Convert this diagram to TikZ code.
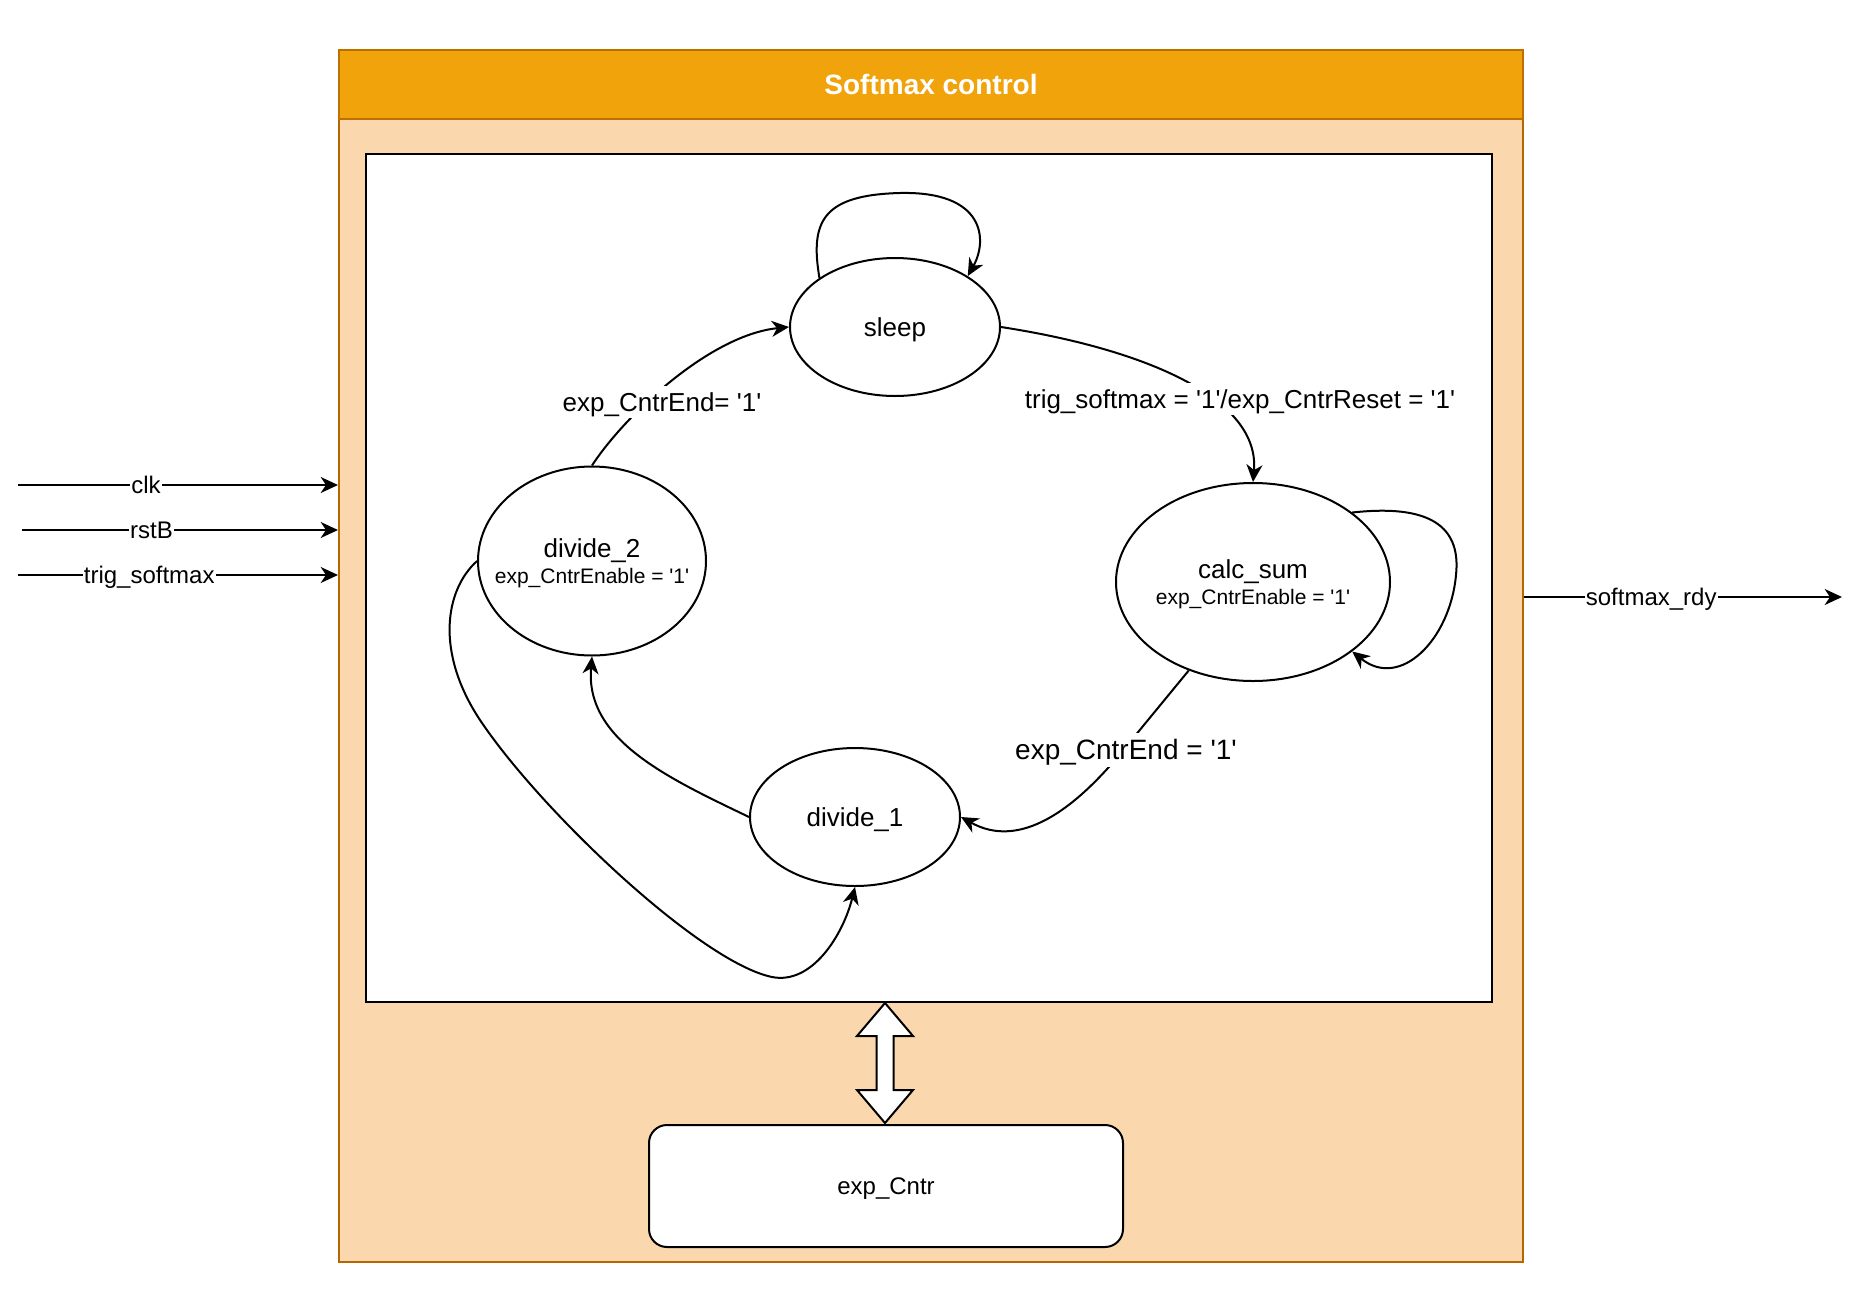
\documentclass[tikz,border=0pt]{standalone}
\usepackage{fontspec}
\setmainfont{Liberation Sans}
\usetikzlibrary{shapes.geometric,arrows.meta,calc}
\definecolor{hdrfill}{HTML}{F0A30A}
\definecolor{hdrline}{HTML}{BD7000}
\definecolor{bodyfill}{HTML}{FAD7AC}
\definecolor{bodyline}{HTML}{B46504}
\newcommand\q{\textquotesingle}
\newcommand\bigf{\fontsize{19.5}{23}\selectfont}
\newcommand\sA{\rule[-4.13pt]{0pt}{21.78pt}}
\newcommand\sB{\rule[-3.82pt]{0pt}{20.11pt}}
\newcommand\sC{\rule[-4.45pt]{0pt}{23.46pt}}
\newcommand\sT{\rule[-4.45pt]{0pt}{23.46pt}}
\newcommand\topA{\rule{0pt}{17.65pt}}
\newcommand\botB{\rule[-3.34pt]{0pt}{0pt}}
\begin{document}
\begin{tikzpicture}[x=0.75pt,y=-0.75pt,
  state/.style={ellipse, draw, line width=1.5pt, fill=white, inner ysep=0pt, inner xsep=-16pt, align=center, font=\fontsize{15.75}{19.8}\selectfont},
  conn/.style={line width=1.5pt, -{Stealth[length=13pt,width=12pt,inset=4pt]}},
  lbl/.style={fill=white, inner sep=1pt, font=\fontsize{19.5}{23}\selectfont},
  iolbl/.style={fill=white, inner sep=1pt, font=\fontsize{18}{21}\selectfont}]
\useasboundingbox[fill=white] (0,0) rectangle (1864,1289);

% outer block
\node[draw=bodyline, fill=bodyfill, line width=1.5pt, minimum width=888pt, minimum height=909pt, inner sep=0pt] (ctrl) at (931,656) {};
\node[draw=hdrline, fill=hdrfill, line width=1.5pt, minimum width=888pt, minimum height=51.75pt, inner sep=0pt, text=white, font=\fontsize{21}{25}\selectfont\bfseries] (hdr) at (931,84.5) {\sT Softmax control};

% FSM area
\node[draw, fill=white, line width=1.5pt, minimum width=844.5pt, minimum height=636pt, inner sep=0pt] (fsm) at (929,578) {};

% states
\node[state, minimum width=157.5pt, minimum height=103.5pt] (sleep) at (895,327) {\bigf\sA sleep};
\node[state, minimum width=171pt, minimum height=141.75pt] (div2) at (592,561) {{\bigf\topA divide\_2}\\exp\_CntrEnable = \q1\q\botB};
\node[state, minimum width=205.5pt, minimum height=148.5pt] (calc) at (1253,582) {{\bigf\topA calc\_sum}\\exp\_CntrEnable = \q1\q\botB};
\node[state, minimum width=157.5pt, minimum height=103.5pt] (div1) at (855,817) {\bigf\sA divide\_1};

% counter
\node[draw, fill=white, line width=1.5pt, rounded corners=13.5pt, minimum width=355.5pt, minimum height=91.5pt, inner sep=0pt, font=\fontsize{18}{21}\selectfont] (cntr) at (886,1186) {\sB exp\_Cntr};

% double block arrow
\draw[line width=1.5pt, fill=white, line join=miter] (885,1003) -- (913,1036) -- (893.5,1036) -- (893.5,1090) -- (913,1090) -- (885,1123) -- (857,1090) -- (876.5,1090) -- (876.5,1036) -- (857,1036) -- cycle;

% transitions
\draw[conn] (sleep.147) .. controls (810,222) and (822,195) .. (900,193) .. controls (985,191) and (988,240) .. (sleep.35);
\draw[conn] (sleep.east) .. controls (1150,350) and (1260,400) .. (calc.north);
\draw[conn] (calc.35) .. controls (1420,505) and (1462,520) .. (1456,575) .. controls (1450,640) and (1400,690) .. (calc.-35);
\draw[conn] (calc.-126) -- (1125,748) .. controls (1075,810) and (1020,850) .. (div1.east);
\draw[conn] (div1.west) .. controls (668,778) and (585,740) .. (div2.south);
\draw[conn] (div2.west) .. controls (445,590) and (435,652) .. (480,720) .. controls (540,810) and (700,962) .. (772,977) .. controls (812,985) and (843,935) .. (div1.south);
\draw[conn] (div2.north) .. controls (625,415) and (710,335) .. (sleep.west);

\node[lbl] (l1) at (662,402) {\sA exp\_CntrEnd= \q1\q};
\node[lbl] (l2) at (1240,399) {\sA trig\_softmax = \q1\q/exp\_CntrReset = \q1\q};
\node[lbl, font=\fontsize{21}{25}\selectfont] (l3) at (1126,750) {\sC exp\_CntrEnd = \q1\q};

% inputs / outputs
\coordinate (clkS) at (18,485);
\coordinate (rstS) at (22,530);
\coordinate (trgS) at (18,575);
\coordinate (rdyE) at (1842,597);
\draw[conn] (clkS) -- (clkS -| ctrl.west) node[iolbl, pos=0.40] {\sB clk};
\draw[conn] (rstS) -- (rstS -| ctrl.west) node[iolbl, pos=0.41] {\sB rstB};
\draw[conn] (trgS) -- (trgS -| ctrl.west) node[iolbl, pos=0.41] {\sB trig\_softmax};
\draw[conn] (rdyE -| ctrl.east) -- (rdyE) node[iolbl, pos=0.40] {\sB softmax\_rdy};
\end{tikzpicture}
\end{document}
